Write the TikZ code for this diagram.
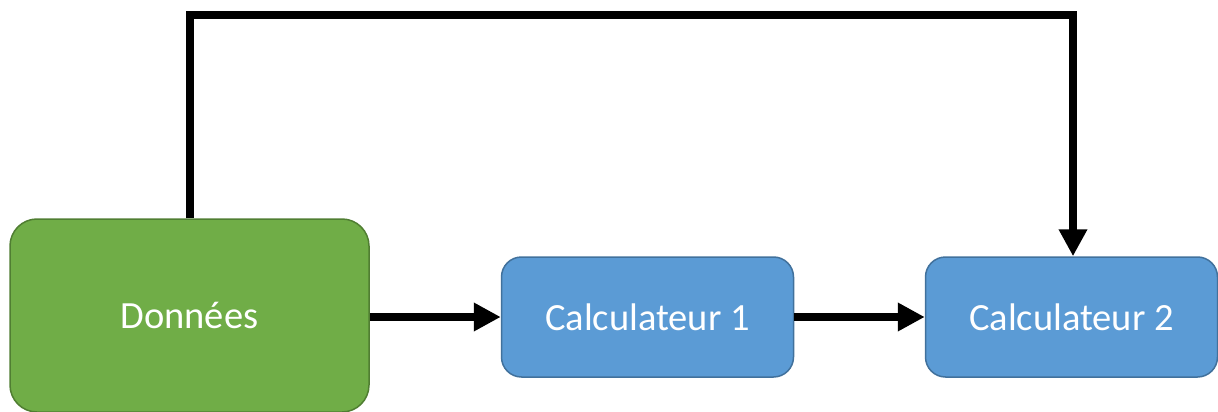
\documentclass[tikz,border=0pt]{standalone}
\usepackage{fontspec}
\setmainfont{Carlito}
\usetikzlibrary{arrows.meta}
\definecolor{boxgreen}{HTML}{70AD47}
\definecolor{boxgreenline}{HTML}{507E32}
\definecolor{boxblue}{HTML}{5B9BD5}
\definecolor{boxblueline}{HTML}{41719C}
\tikzset{
  greenbox/.style={draw=boxgreenline, fill=boxgreen, line width=1.5pt, rounded corners=27pt,
    inner sep=0pt, minimum width=359pt, minimum height=193pt, text=white,
    font=\fontsize{38.5}{46}\selectfont},
  bluebox/.style={draw=boxblueline, fill=boxblue, line width=1.5pt, rounded corners=20pt,
    inner sep=0pt, minimum width=292pt, minimum height=120pt, text=white,
    font=\fontsize{38.5}{46}\selectfont},
  conn/.style={line width=8pt, black, -{Triangle[length=27pt,width=27pt]}},
}
\begin{document}
\begin{tikzpicture}[x=1pt,y=-1pt]
\useasboundingbox (0,0) rectangle (1218,412);
\node[greenbox] (don) at (189.5,315.5) {Données};
\node[bluebox] (cal1) at (647.5,317) {Calculateur 1};
\node[bluebox] (cal2) at (1071.5,317) {Calculateur 2};
\coordinate (c1) at (190,15);
\coordinate (c2) at (1073,15);
\draw[conn] (don.east |- cal1.west) -- (cal1.west);
\draw[conn] (cal1.east) -- (cal2.west);
\draw[conn] (don.north -| c1) -- (c1) -- (c2) -- (c2 |- cal2.north);
\end{tikzpicture}
\end{document}
